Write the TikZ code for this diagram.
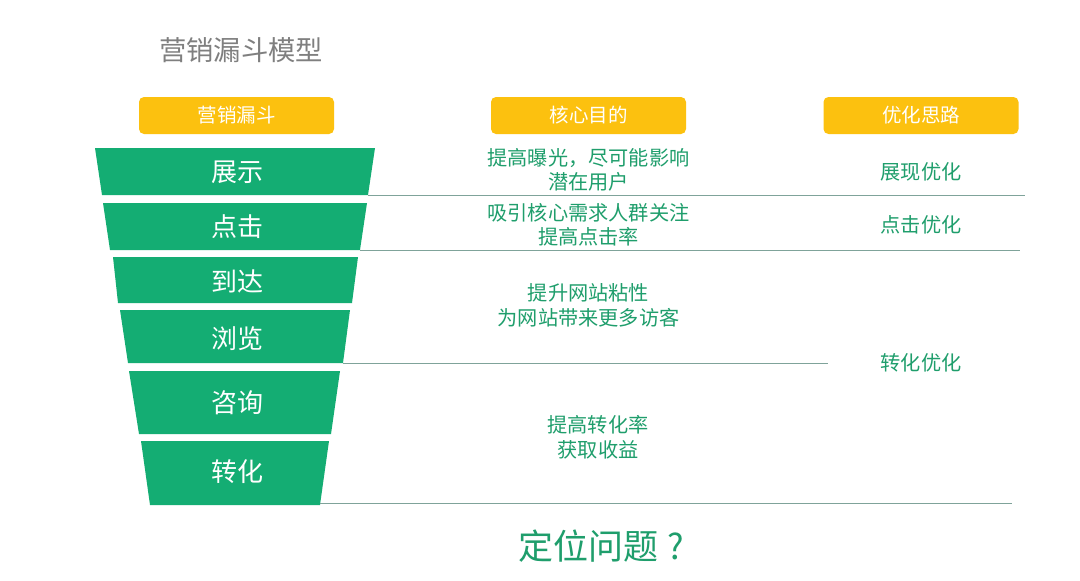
\documentclass[tikz,border=0pt]{standalone}
\usepackage{fontspec}
\newfontfamily\cjk{Noto Sans CJK SC}
\definecolor{fgreen}{HTML}{14AD73}
\definecolor{tgreen}{HTML}{1F9E6C}
\definecolor{hdr}{HTML}{FCC10F}
\definecolor{rulec}{HTML}{7FA39A}
\definecolor{ttl}{HTML}{7F7F7F}
\tikzset{
  funnel/.style={fill=fgreen, draw=none},
  flabel/.style={text=white, font=\cjk\fontsize{26}{30}\selectfont, inner sep=0pt},
  hbox/.style={fill=hdr, rounded corners=5pt, minimum width=195pt, minimum height=37pt, inner sep=0pt, text=white, font=\cjk\fontsize{19.5}{23}\selectfont},
  mtext/.style={text=tgreen, align=center, inner sep=0pt, font=\cjk\fontsize{20.2}{24.5}\selectfont},
  sepline/.style={draw=rulec, line width=1pt}
}
\begin{document}
\begin{tikzpicture}[x=1pt,y=-1pt]
\useasboundingbox[fill=white] (0,0) rectangle (1080,581);

% title
\node[anchor=west, inner sep=0pt, text=ttl, font=\cjk\fontsize{27.3}{31}\selectfont] (title) at (159,50) {营销漏斗模型};

% headers
\node[hbox] (h1) at (236.5,115.5) {营销漏斗};
\node[hbox] (h2) at (588.5,115.5) {核心目的};
\node[hbox] (h3) at (921,115.5) {优化思路};

% funnel
\fill[funnel] (95,148) -- (375,148) -- (368,195) -- (102,195) -- cycle;
\fill[funnel] (103,203) -- (367,203) -- (360,250) -- (110,250) -- cycle;
\fill[funnel] (113,257) -- (358,257) -- (352,303) -- (118,303) -- cycle;
\fill[funnel] (120,310) -- (350,310) -- (343,363) -- (128,363) -- cycle;
\fill[funnel] (129,371) -- (340,371) -- (331,434) -- (139,434) -- cycle;
\fill[funnel] (141,441) -- (329,441) -- (320,505) -- (150,505) -- cycle;

\node[flabel] (f1) at (237,172) {展示};
\node[flabel] (f2) at (237,227) {点击};
\node[flabel] (f3) at (237,281) {到达};
\node[flabel] (f4) at (237,339) {浏览};
\node[flabel] (f5) at (237,403) {咨询};
\node[flabel] (f6) at (237,472) {转化};

% separator lines
\coordinate (l1a) at (368,195); \coordinate (l1b) at (1025,195);
\coordinate (l2a) at (360,250); \coordinate (l2b) at (1020,250);
\coordinate (l3a) at (343,363); \coordinate (l3b) at (828,363);
\coordinate (l4a) at (320,503.5); \coordinate (l4b) at (1012,503.5);
\draw[sepline] (l1a) -- (l1b);
\draw[sepline] (l2a) -- (l2b);
\draw[sepline] (l3a) -- (l3b);
\draw[sepline] (l4a) -- (l4b);

% middle column
\node[mtext] (m1) at (588.5,170) {提高曝光，尽可能影响\\潜在用户};
\node[mtext] (m2) at (588.5,225) {吸引核心需求人群关注\\提高点击率};
\node[mtext] (m3) at (588.5,305.5) {提升网站粘性\\为网站带来更多访客};
\node[mtext] (m4) at (598,437.5) {提高转化率\\获取收益};

% right column
\node[mtext] (r1) at (921,172) {展现优化};
\node[mtext] (r2) at (921,225) {点击优化};
\node[mtext] (r3) at (921,363) {转化优化};

% bottom question
\node[inner sep=0pt, text=tgreen, font=\cjk\fontsize{35}{40}\selectfont] (q) at (606,546) {定位问题\makebox[1em][c]{?}};
\end{tikzpicture}
\end{document}
